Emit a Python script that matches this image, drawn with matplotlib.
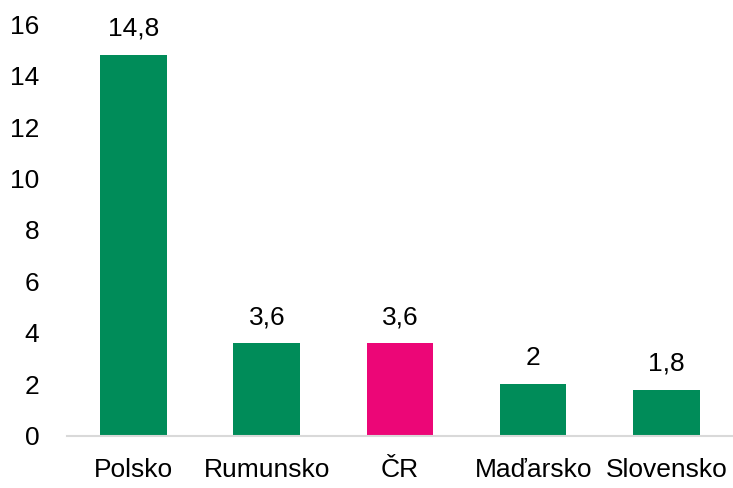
import matplotlib
matplotlib.use("Agg")
import matplotlib.pyplot as plt
from matplotlib import font_manager

categories = ["Polsko", "Rumunsko", "ČR", "Maďarsko", "Slovensko"]
values = [14.8, 3.6, 3.6, 2.0, 1.8]
labels = ["14,8", "3,6", "3,6", "2", "1,8"]
colors = ["#008C59", "#008C59", "#EC0677", "#008C59", "#008C59"]
yticks = [0, 2, 4, 6, 8, 10, 12, 14, 16]

fams = {f.name for f in font_manager.fontManager.ttflist}
fam = "Liberation Sans Narrow" if "Liberation Sans Narrow" in fams else "Liberation Sans"
plt.rcParams['font.family'] = [fam, 'DejaVu Sans']

fig = plt.figure(figsize=(7.33, 4.88), dpi=100)
ax = fig.add_axes([0.0914, 0.1066, 0.9086, 0.8442])
x = range(len(categories))
ax.bar(x, values, width=0.5, color=colors, zorder=2)
for xi, v, l in zip(x, values, labels):
    ax.text(xi, v + 0.74, l, ha="center", va="baseline", fontsize=19)
ax.set_xlim(-0.5, 4.5)
ax.set_ylim(0, 16)
ax.set_yticks(yticks)
ax.set_yticklabels([str(t) for t in yticks], fontsize=19)
ax.set_xticks(list(x))
ax.set_xticklabels(categories, fontsize=19)
for s in ["top", "right", "left"]:
    ax.spines[s].set_visible(False)
ax.spines["bottom"].set_color("#D9D9D9")
ax.spines["bottom"].set_linewidth(1.5)
ax.tick_params(axis="both", length=0)
ax.tick_params(axis="y", pad=20)
ax.tick_params(axis="x", pad=16)
fig.savefig("out.png", dpi=100)
